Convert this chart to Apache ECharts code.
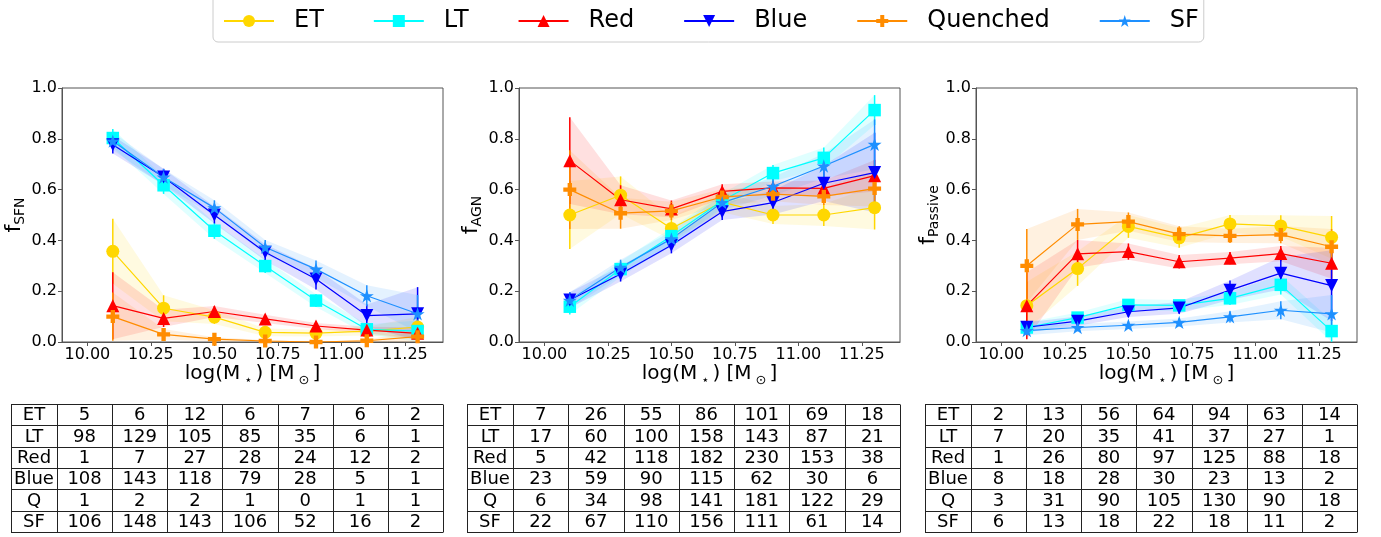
<!DOCTYPE html>
<html><head><meta charset="utf-8">
<script src="https://cdn.jsdelivr.net/npm/echarts@6/dist/echarts.min.js"></script>
<style>html,body{margin:0;padding:0;background:#fff}#chart{width:1381px;height:537px}</style>
</head><body><div id="chart"></div>
<script>
// ---------- data ----------
const massBins = [10.1, 10.3, 10.5, 10.7, 10.9, 11.1, 11.3];
const xTickValues = [10.0, 10.25, 10.5, 10.75, 11.0, 11.25];
const groupNames = ['ET', 'LT', 'Red', 'Blue', 'Quenched', 'SF'];
const tableRowLabels = ['ET', 'LT', 'Red', 'Blue', 'Q', 'SF'];
const panelSubscripts = ['SFN', 'AGN', 'Passive'];

// f_SFN
const sfnET   = [0.357, 0.133, 0.098, 0.038, 0.035, 0.043, 0.059];
const sfnLT   = [0.803, 0.617, 0.438, 0.299, 0.163, 0.050, 0.043];
const sfnRed  = [0.143, 0.093, 0.120, 0.091, 0.063, 0.047, 0.034];
const sfnBlue = [0.777, 0.650, 0.500, 0.353, 0.248, 0.104, 0.111];
const sfnQ    = [0.100, 0.030, 0.011, 0.004, 0.000, 0.005, 0.021];
const sfnSF   = [0.791, 0.649, 0.528, 0.373, 0.287, 0.182, 0.111];
const sfnETErr   = [0.128, 0.051, 0.027, 0.015, 0.013, 0.017, 0.040];
const sfnLTErr   = [0.036, 0.034, 0.032, 0.027, 0.025, 0.020, 0.042];
const sfnRedErr  = [0.132, 0.034, 0.022, 0.016, 0.012, 0.013, 0.024];
const sfnBlueErr = [0.035, 0.032, 0.033, 0.032, 0.041, 0.044, 0.105];
const sfnQErr    = [0.095, 0.021, 0.008, 0.004, 0.000, 0.005, 0.021];
const sfnSFErr   = [0.035, 0.032, 0.030, 0.029, 0.034, 0.041, 0.074];

// f_AGN
const agnET   = [0.500, 0.578, 0.447, 0.551, 0.500, 0.500, 0.529];
const agnLT   = [0.139, 0.287, 0.417, 0.556, 0.665, 0.725, 0.913];
const agnRed  = [0.714, 0.560, 0.524, 0.593, 0.607, 0.605, 0.655];
const agnBlue = [0.165, 0.268, 0.381, 0.513, 0.549, 0.625, 0.667];
const agnQ    = [0.600, 0.507, 0.516, 0.571, 0.582, 0.573, 0.604];
const agnSF   = [0.164, 0.294, 0.406, 0.549, 0.613, 0.693, 0.778];
const agnETErr   = [0.134, 0.074, 0.045, 0.040, 0.035, 0.043, 0.086];
const agnLTErr   = [0.031, 0.031, 0.032, 0.029, 0.032, 0.041, 0.059];
const agnRedErr  = [0.171, 0.057, 0.033, 0.028, 0.025, 0.031, 0.062];
const agnBlueErr = [0.031, 0.030, 0.032, 0.033, 0.047, 0.070, 0.157];
const agnQErr    = [0.155, 0.061, 0.036, 0.031, 0.028, 0.034, 0.071];
const agnSFErr   = [0.032, 0.030, 0.030, 0.030, 0.036, 0.049, 0.098];

// f_Passive
const pasET   = [0.143, 0.289, 0.455, 0.410, 0.465, 0.457, 0.412];
const pasLT   = [0.057, 0.096, 0.146, 0.144, 0.172, 0.225, 0.043];
const pasRed  = [0.143, 0.347, 0.356, 0.316, 0.330, 0.348, 0.310];
const pasBlue = [0.058, 0.082, 0.119, 0.134, 0.204, 0.271, 0.222];
const pasQ    = [0.300, 0.463, 0.474, 0.425, 0.418, 0.423, 0.375];
const pasSF   = [0.045, 0.057, 0.066, 0.077, 0.099, 0.125, 0.111];
const pasETErr   = [0.094, 0.068, 0.045, 0.039, 0.035, 0.042, 0.084];
const pasLTErr   = [0.021, 0.020, 0.023, 0.021, 0.026, 0.038, 0.042];
const pasRedErr  = [0.132, 0.055, 0.032, 0.027, 0.024, 0.030, 0.061];
const pasBlueErr = [0.020, 0.018, 0.021, 0.023, 0.038, 0.064, 0.139];
const pasQErr    = [0.145, 0.061, 0.036, 0.031, 0.028, 0.034, 0.070];
const pasSFErr   = [0.018, 0.015, 0.015, 0.016, 0.022, 0.035, 0.074];

// counts tables
const nSfnET   = [5, 6, 12, 6, 7, 6, 2];
const nSfnLT   = [98, 129, 105, 85, 35, 6, 1];
const nSfnRed  = [1, 7, 27, 28, 24, 12, 2];
const nSfnBlue = [108, 143, 118, 79, 28, 5, 1];
const nSfnQ    = [1, 2, 2, 1, 0, 1, 1];
const nSfnSF   = [106, 148, 143, 106, 52, 16, 2];
const nAgnET   = [7, 26, 55, 86, 101, 69, 18];
const nAgnLT   = [17, 60, 100, 158, 143, 87, 21];
const nAgnRed  = [5, 42, 118, 182, 230, 153, 38];
const nAgnBlue = [23, 59, 90, 115, 62, 30, 6];
const nAgnQ    = [6, 34, 98, 141, 181, 122, 29];
const nAgnSF   = [22, 67, 110, 156, 111, 61, 14];
const nPasET   = [2, 13, 56, 64, 94, 63, 14];
const nPasLT   = [7, 20, 35, 41, 37, 27, 1];
const nPasRed  = [1, 26, 80, 97, 125, 88, 18];
const nPasBlue = [8, 18, 28, 30, 23, 13, 2];
const nPasQ    = [3, 31, 90, 105, 130, 90, 18];
const nPasSF   = [6, 13, 18, 22, 18, 11, 2];

// ---------- styling ----------
const FONT = 'DejaVu Sans';
const colors = ['#FFD700', '#00FFFF', '#FF0000', '#0000FF', '#FF8C00', '#1E90FF'];
const STAR = 'path://M50,0L61.23,34.55L97.55,34.55L68.17,55.9L79.39,90.45L50,69.1L20.61,90.45L31.83,55.9L2.45,34.55L38.77,34.55Z';
const PLUS = 'path://M1,0L2,0L2,1L3,1L3,2L2,2L2,3L1,3L1,2L0,2L0,1L1,1Z';
const TRI_DOWN = 'path://M0,0L10,0L5,10Z';
const symbols = ['circle', 'rect', 'triangle', TRI_DOWN, PLUS, STAR];
const symbolSizes = [13, 12.5, 13, 13, 13, [14, 13.3]];
const AXIS_COLOR = '#555';

const panels = [
  { vals: [sfnET, sfnLT, sfnRed, sfnBlue, sfnQ, sfnSF],
    errs: [sfnETErr, sfnLTErr, sfnRedErr, sfnBlueErr, sfnQErr, sfnSFErr],
    counts: [nSfnET, nSfnLT, nSfnRed, nSfnBlue, nSfnQ, nSfnSF] },
  { vals: [agnET, agnLT, agnRed, agnBlue, agnQ, agnSF],
    errs: [agnETErr, agnLTErr, agnRedErr, agnBlueErr, agnQErr, agnSFErr],
    counts: [nAgnET, nAgnLT, nAgnRed, nAgnBlue, nAgnQ, nAgnSF] },
  { vals: [pasET, pasLT, pasRed, pasBlue, pasQ, pasSF],
    errs: [pasETErr, pasLTErr, pasRedErr, pasBlueErr, pasQErr, pasSFErr],
    counts: [nPasET, nPasLT, nPasRed, nPasBlue, nPasQ, nPasSF] }
];

const gridLefts = [62, 519, 976];
const GRID_TOP = 88, GRID_W = 381, GRID_H = 254;
const tableLefts = [11, 467, 925];
const tableRights = [443, 900, 1357];
const TABLE_TOP = 404, ROW_H = 21.33, LABEL_W = 46;

function clamp(v) { return Math.max(0, Math.min(1, v)); }

const grids = [], xAxes = [], yAxes = [], series = [], graphics = [];

panels.forEach((pan, p) => {
  grids.push({ left: gridLefts[p], top: GRID_TOP, width: GRID_W, height: GRID_H,
    show: true, borderColor: AXIS_COLOR, borderWidth: 1, backgroundColor: 'transparent' });
  xAxes.push({
    type: 'value', gridIndex: p, min: 9.9, max: 11.4,
    axisLine: { show: true, onZero: false, lineStyle: { color: AXIS_COLOR, width: 1 } },
    axisTick: { show: true, inside: false, length: 4, customValues: xTickValues, lineStyle: { color: AXIS_COLOR } },
    axisLabel: { show: true, customValues: xTickValues, margin: 5, fontSize: 16, fontFamily: FONT, color: '#000',
      formatter: v => v.toFixed(2) },
    splitLine: { show: false },
    name: '{a|log(M}{s|⋆}{a|) [M}{s|⊙}{a|]}',
    nameLocation: 'middle', nameGap: 18,
    nameTextStyle: { rich: {
      a: { fontSize: 20, fontFamily: FONT, color: '#000', lineHeight: 26 },
      s: { fontSize: 13, fontFamily: FONT, color: '#000', lineHeight: 14, verticalAlign: 'bottom', padding: [0, 3, 0, 4] }
    } }
  });
  yAxes.push({
    type: 'value', gridIndex: p, min: 0, max: 1, interval: 0.2,
    axisLine: { show: true, lineStyle: { color: AXIS_COLOR, width: 1 } },
    axisTick: { show: true, inside: false, length: 4, lineStyle: { color: AXIS_COLOR } },
    axisLabel: { margin: 5, fontSize: 16, fontFamily: FONT, color: '#000', formatter: v => v.toFixed(1) },
    splitLine: { show: false },
    name: '{a|f}{s|' + panelSubscripts[p] + '}',
    nameLocation: 'middle', nameRotate: 90, nameGap: 31,
    nameTextStyle: { rich: {
      a: { fontSize: 22, fontFamily: FONT, color: '#000', lineHeight: 26 },
      s: { fontSize: 14, fontFamily: FONT, color: '#000', lineHeight: 14, verticalAlign: 'bottom' }
    } }
  });

  groupNames.forEach((name, g) => {
    const vals = pan.vals[g], errs = pan.errs[g], col = colors[g];
    // shaded band
    series.push({
      type: 'custom', name: name + '_band' + p, xAxisIndex: p, yAxisIndex: p, silent: true,
      data: massBins.map((x, i) => [x, vals[i]]),
      renderItem: function (params, api) {
        if (params.dataIndex !== 0) return null;
        const up = [], lo = [];
        for (let i = 0; i < massBins.length; i++) {
          up.push(api.coord([massBins[i], clamp(vals[i] + errs[i])]));
          lo.push(api.coord([massBins[i], clamp(vals[i] - errs[i])]));
        }
        return { type: 'polygon', shape: { points: up.concat(lo.reverse()) },
          style: { fill: col, opacity: 0.12, stroke: null } };
      }
    });
    // error bars
    series.push({
      type: 'custom', name: name + '_err' + p, xAxisIndex: p, yAxisIndex: p, silent: true,
      data: massBins.map((x, i) => [x, clamp(vals[i] - errs[i]), clamp(vals[i] + errs[i])]),
      renderItem: function (params, api) {
        const a = api.coord([api.value(0), api.value(1)]);
        const b = api.coord([api.value(0), api.value(2)]);
        return { type: 'line', shape: { x1: a[0], y1: a[1], x2: b[0], y2: b[1] },
          style: { stroke: col, lineWidth: 1.5 } };
      }
    });
    // line + markers
    series.push({
      type: 'line', name: name, xAxisIndex: p, yAxisIndex: p,
      data: massBins.map((x, i) => [x, vals[i]]),
      symbol: symbols[g], symbolSize: symbolSizes[g], showSymbol: true,
      itemStyle: { color: col, borderColor: col, borderWidth: 0 },
      lineStyle: { color: col, width: 1.2 },
      emphasis: { disabled: true }
    });
  });

  // table
  const tl = tableLefts[p], tr = tableRights[p];
  const divX = tl + LABEL_W;
  const colW = (tr - divX) / massBins.length;
  const nRows = tableRowLabels.length;
  const bottom = TABLE_TOP + ROW_H * nRows;
  for (let r = 0; r <= nRows; r++) {
    const y = Math.round(TABLE_TOP + r * ROW_H) + 0.5;
    graphics.push({ type: 'line', shape: { x1: tl, y1: y, x2: tr, y2: y }, style: { stroke: '#222', lineWidth: 1 }, silent: true });
  }
  const vx = [tl, divX];
  for (let c = 1; c <= massBins.length; c++) vx.push(divX + c * colW);
  vx.forEach(x => {
    const xx = Math.round(x) + 0.5;
    graphics.push({ type: 'line', shape: { x1: xx, y1: TABLE_TOP + 0.5, x2: xx, y2: Math.round(bottom) + 0.5 }, style: { stroke: '#222', lineWidth: 1 }, silent: true });
  });
  tableRowLabels.forEach((lab, r) => {
    const cy = TABLE_TOP + r * ROW_H + ROW_H / 2 + 1;
    graphics.push({ type: 'text', silent: true,
      style: { text: lab, x: tl + LABEL_W / 2, y: cy, align: 'center', verticalAlign: 'middle', font: '18px "DejaVu Sans"', fill: '#000' } });
    pan.counts[r].forEach((n, c) => {
      graphics.push({ type: 'text', silent: true,
        style: { text: String(n), x: divX + (c + 0.5) * colW, y: cy, align: 'center', verticalAlign: 'middle', font: '18px "DejaVu Sans"', fill: '#000' } });
    });
  });
});

const chart = echarts.init(document.getElementById('chart'), null, { renderer: 'canvas' });
chart.setOption({
  animation: false,
  backgroundColor: '#fff',
  textStyle: { fontFamily: FONT },
  legend: {
    data: groupNames, left: 213, top: -6, orient: 'horizontal',
    itemWidth: 50, itemHeight: 15, itemGap: 49,
    padding: [15, 5, 9, 10],
    backgroundColor: '#fff', borderColor: '#cccccc', borderWidth: 1, borderRadius: 5,
    selectedMode: false,
    textStyle: { fontSize: 24, fontFamily: FONT, color: '#000', padding: [0, 0, 0, 15] }
  },
  grid: grids, xAxis: xAxes, yAxis: yAxes, series: series,
  graphic: graphics
});
</script></body></html>
